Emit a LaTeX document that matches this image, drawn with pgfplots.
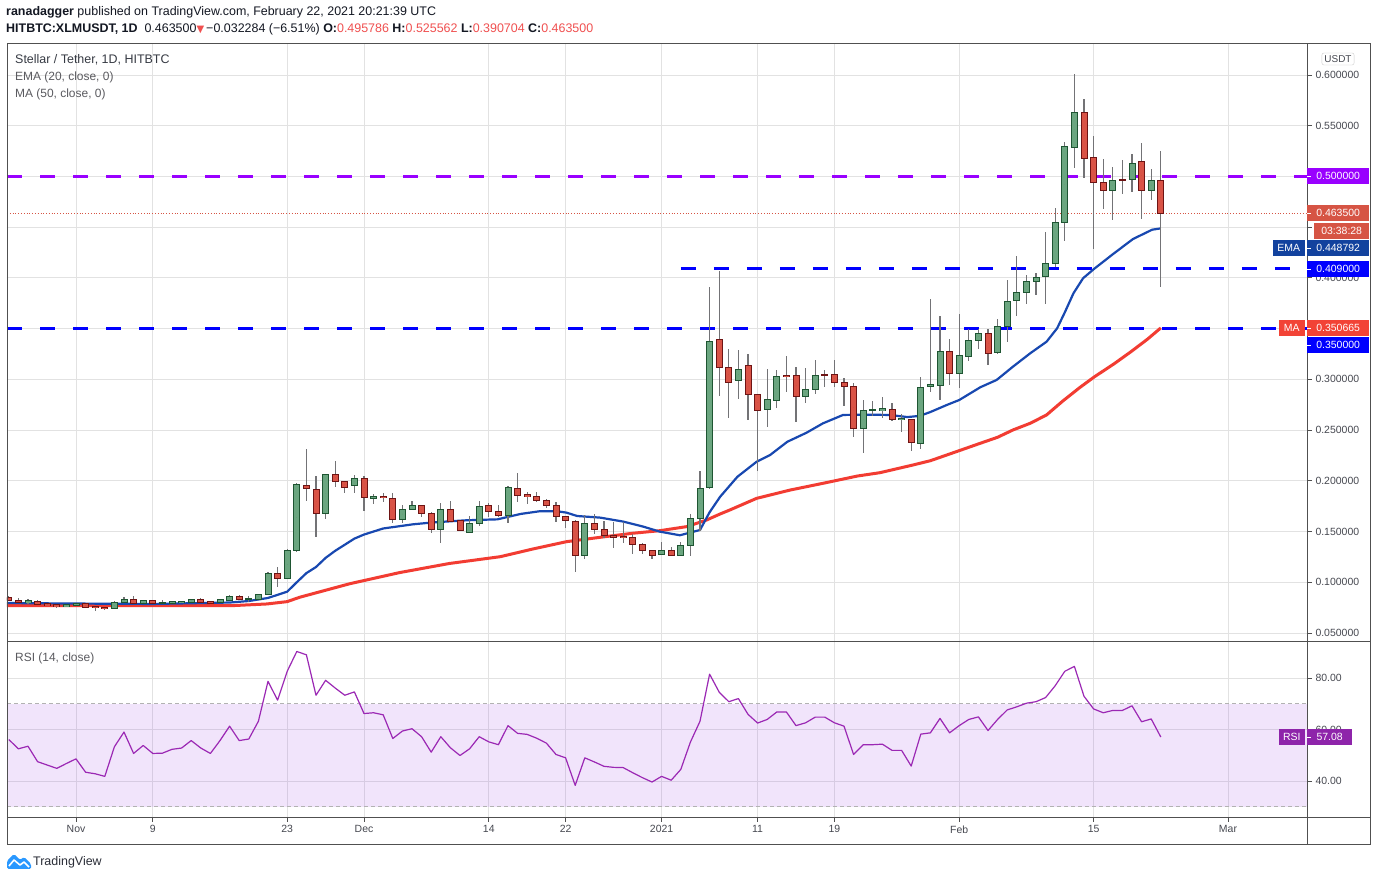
\documentclass[border=0pt]{standalone}
\usepackage{fontspec}
\setmainfont{Liberation Sans}
\newfontfamily\dejavu{DejaVu Sans}
\usepackage{pgfplots}
\usepackage{pgfplotstable}
\pgfplotsset{compat=1.18}

\definecolor{gfill}{RGB}{107,166,128}
\definecolor{gline}{RGB}{30,85,50}
\definecolor{rfill}{RGB}{217,83,70}
\definecolor{rline}{RGB}{110,20,20}
\definecolor{wick}{RGB}{115,115,118}
\definecolor{emac}{RGB}{24,72,176}
\definecolor{mac}{RGB}{242,60,50}
\definecolor{lvlpurple}{RGB}{153,0,255}
\definecolor{lvlblue}{RGB}{0,0,255}
\definecolor{gridc}{RGB}{226,226,226}
\definecolor{framec}{RGB}{80,80,80}
\definecolor{tickc}{RGB}{70,72,80}
\definecolor{rsiline}{RGB}{155,40,180}
\definecolor{rsiband}{RGB}{140,40,230}
\definecolor{pricebox}{RGB}{214,84,68}
\definecolor{emabox}{RGB}{18,66,158}
\definecolor{mabox}{RGB}{242,67,54}
\definecolor{rsibox}{RGB}{142,36,170}
\definecolor{hdrred}{RGB}{240,80,80}
\definecolor{hdr}{RGB}{19,23,34}
\definecolor{legc}{RGB}{90,90,95}
\definecolor{tvblue}{RGB}{41,152,255}

\pgfplotstableread{
d o h l c
-5 0.0798 0.0832 0.0790 0.0815
-1 0.0762 0.0782 0.0755 0.0776
0 0.0776 0.0798 0.0770 0.0790
4 0.0740 0.0815 0.0735 0.0802
5 0.0800 0.0852 0.0795 0.0832
7 0.0790 0.0825 0.0782 0.0815
9 0.0792 0.0825 0.0790 0.0800
10 0.0795 0.0815 0.0790 0.0808
11 0.0798 0.0812 0.0792 0.0808
12 0.0805 0.0830 0.0800 0.0828
15 0.0800 0.0835 0.0795 0.0828
16 0.0822 0.0870 0.0818 0.0862
18 0.0828 0.0865 0.0806 0.0835
19 0.0835 0.0885 0.0830 0.0881
20 0.0882 0.1100 0.0878 0.1088
22 0.1039 0.1325 0.1030 0.1315
23 0.1318 0.1980 0.1300 0.1959
26 0.1680 0.2070 0.1624 0.2064
29 0.1956 0.2058 0.1880 0.2025
31 0.1825 0.1874 0.1775 0.1848
34 0.1621 0.1759 0.1587 0.1719
35 0.1719 0.1802 0.1716 0.1759
38 0.1523 0.1782 0.1390 0.1719
41 0.1493 0.1652 0.1493 0.1582
42 0.1582 0.1802 0.1550 0.1749
45 0.1660 0.1946 0.1587 0.1936
53 0.1262 0.1660 0.1232 0.1581
61 0.1276 0.1400 0.1276 0.1315
63 0.1266 0.1400 0.1256 0.1364
64 0.1364 0.1673 0.1256 0.1630
65 0.1630 0.2097 0.1505 0.1926
66 0.1932 0.3907 0.1922 0.3375
69 0.2991 0.3290 0.2810 0.3099
72 0.2705 0.3106 0.2534 0.2804
73 0.2794 0.3089 0.2721 0.3031
76 0.2834 0.3112 0.2770 0.2902
77 0.2902 0.3191 0.2859 0.3041
82 0.2517 0.2794 0.2277 0.2695
83 0.2695 0.2784 0.2642 0.2700
84 0.2692 0.2830 0.2616 0.2708
86 0.2607 0.2656 0.2485 0.2617
88 0.2373 0.3020 0.2317 0.2922
89 0.2932 0.3789 0.2872 0.2951
90 0.2942 0.3625 0.2794 0.3276
92 0.3060 0.3641 0.2918 0.3237
93 0.3227 0.3494 0.3179 0.3385
94 0.3385 0.3494 0.3296 0.3454
96 0.3267 0.3592 0.3247 0.3523
97 0.3523 0.3979 0.3365 0.3770
98 0.3780 0.4216 0.3622 0.3858
99 0.3858 0.4029 0.3740 0.3967
100 0.3967 0.4045 0.3832 0.4006
101 0.4016 0.4450 0.3740 0.4140
102 0.4140 0.4686 0.4111 0.4548
103 0.4548 0.5337 0.4367 0.5297
104 0.5287 0.6010 0.5086 0.5632
108 0.4864 0.5090 0.4568 0.4962
110 0.4972 0.5219 0.4844 0.5130
112 0.4864 0.5070 0.4765 0.4958
}\greens

\pgfplotstableread{
d o h l c
-7 0.0851 0.0860 0.0815 0.0822
-6 0.0822 0.0840 0.0798 0.0805
-4 0.0812 0.0828 0.0778 0.0783
-3 0.0789 0.0795 0.0765 0.0772
-2 0.0776 0.0782 0.0742 0.0762
1 0.0786 0.0790 0.0748 0.0752
2 0.0760 0.0765 0.0720 0.0750
3 0.0753 0.0758 0.0722 0.0740
6 0.0832 0.0860 0.0788 0.0792
8 0.0815 0.0820 0.0785 0.0790
13 0.0828 0.0848 0.0795 0.0802
14 0.0810 0.0815 0.0790 0.0795
17 0.0862 0.0872 0.0830 0.0835
21 0.1088 0.1147 0.0957 0.1039
24 0.1956 0.2313 0.1800 0.1926
25 0.1916 0.2047 0.1450 0.1680
27 0.2064 0.2195 0.1940 0.1995
28 0.1995 0.2000 0.1877 0.1936
30 0.2025 0.2047 0.1706 0.1838
32 0.1848 0.1880 0.1790 0.1838
33 0.1828 0.1877 0.1587 0.1621
36 0.1759 0.1759 0.1641 0.1680
37 0.1680 0.1690 0.1489 0.1523
39 0.1719 0.1805 0.1600 0.1600
40 0.1610 0.1610 0.1503 0.1513
43 0.1759 0.1780 0.1641 0.1700
44 0.1700 0.1759 0.1641 0.1660
46 0.1926 0.2074 0.1794 0.1857
47 0.1860 0.1886 0.1770 0.1847
48 0.1847 0.1886 0.1794 0.1808
49 0.1808 0.1825 0.1733 0.1759
50 0.1759 0.1788 0.1590 0.1651
51 0.1651 0.1651 0.1532 0.1607
52 0.1601 0.1617 0.1104 0.1262
54 0.1581 0.1673 0.1476 0.1523
55 0.1518 0.1608 0.1440 0.1460
56 0.1460 0.1589 0.1340 0.1443
57 0.1450 0.1589 0.1384 0.1440
58 0.1443 0.1476 0.1282 0.1374
59 0.1374 0.1390 0.1282 0.1315
60 0.1315 0.1315 0.1226 0.1266
62 0.1315 0.1345 0.1266 0.1266
67 0.3395 0.4068 0.2839 0.3119
68 0.3119 0.3296 0.2622 0.2972
70 0.3139 0.3250 0.2603 0.2853
71 0.2853 0.2853 0.2100 0.2695
74 0.3041 0.3227 0.2879 0.3027
75 0.3041 0.3119 0.2583 0.2834
78 0.3047 0.3089 0.2921 0.3043
79 0.3050 0.3191 0.2928 0.2972
80 0.2972 0.3017 0.2741 0.2932
81 0.2932 0.2960 0.2435 0.2517
85 0.2705 0.2764 0.2593 0.2607
87 0.2607 0.2607 0.2297 0.2380
91 0.3276 0.3395 0.2942 0.3060
95 0.3454 0.3494 0.3139 0.3257
105 0.5632 0.5763 0.4982 0.5179
106 0.5189 0.5399 0.4282 0.4942
107 0.4942 0.5169 0.4677 0.4864
109 0.4965 0.5160 0.4830 0.4960
111 0.5150 0.5330 0.4577 0.4864
113 0.495786 0.525562 0.390704 0.4635
}\reds

\pgfplotstableread{
d v
-7.2 0.0795
0 0.0790
8 0.0786
16 0.0800
18 0.0815
20 0.0845
22 0.0907
23 0.1000
24 0.1090
25 0.1150
26 0.1240
27 0.1310
28 0.1370
29 0.1430
30 0.1470
32 0.1530
35.1 0.1571
37.2 0.1590
40.7 0.1611
43.9 0.1620
46.3 0.1673
48.3 0.1700
50.1 0.1700
51.1 0.1686
52.2 0.1653
54.6 0.1637
57 0.1598
59.1 0.1548
60.8 0.1499
62.9 0.1463
65 0.1515
66 0.1690
67.1 0.1843
68.9 0.2040
70.9 0.2188
72.3 0.2254
74.1 0.2385
76.1 0.2474
77.8 0.2566
79.9 0.2649
82 0.2652
84.8 0.2649
86.6 0.2628
87.9 0.2640
89 0.2678
90.7 0.2747
92 0.2796
94.2 0.2922
95.9 0.2994
97.6 0.3125
99.4 0.3257
101.1 0.3371
102.2 0.3503
103 0.3660
103.9 0.3848
104.9 0.3996
106 0.4085
108 0.4233
110.1 0.4383
112.1 0.4475
113 0.4488
}\ema

\pgfplotstableread{
d v
-7.2 0.0770
16.4 0.0770
19.9 0.0786
22 0.0809
23.3 0.0852
28.5 0.0985
33.7 0.1095
38.9 0.1185
44.2 0.1252
47.6 0.1328
51.1 0.1400
54.6 0.1443
58 0.1483
60.8 0.1508
63.6 0.1548
65.7 0.1614
67.1 0.1673
68.1 0.1712
70.9 0.1827
74.4 0.1909
77.8 0.1975
81.4 0.2047
83.75 0.2080
87.2 0.2156
89 0.2198
92 0.2297
94.2 0.2370
96 0.2429
97.6 0.2501
99.4 0.2567
101.1 0.2649
102.8 0.2787
104.6 0.2922
106.1 0.3026
108.1 0.3151
109.9 0.3273
111.6 0.3395
113 0.3507
}\ma

\pgfplotstableread{
d v
-7 56.1
-6 52.5
-5 53.5
-4 47.5
-3 46.2
-2 44.9
-1 46.8
0 48.6
1 43.4
2 42.8
3 41.8
4 53.3
5 59.0
6 50.7
7 53.8
8 50.7
9 50.8
10 52.3
11 52.8
12 55.7
13 52.8
14 50.7
15 55.7
16 61.3
17 55.7
18 56.3
19 63.2
20 78.7
21 71.4
22 82.6
23 90.3
24 89.0
25 73.3
26 79.1
27 76.1
28 73.3
29 74.6
30 66.2
31 66.5
32 65.7
33 56.5
34 59.4
35 60.3
36 57.2
37 51.2
38 57.2
39 52.9
40 49.9
41 52.5
42 57.2
43 55.2
44 54.1
45 61.5
46 58.5
47 58.1
48 56.6
49 54.7
50 50.3
51 49.0
52 38.3
53 49.0
54 47.4
55 45.7
56 45.3
57 45.2
58 43.2
59 41.3
60 39.6
61 41.8
62 40.3
63 44.5
64 55.1
65 63.2
66 81.5
67 74.5
68 70.8
69 72.0
70 65.9
71 62.5
72 63.9
73 66.8
74 66.8
75 61.5
76 62.6
77 64.8
78 64.8
79 62.6
80 61.3
81 50.3
82 54.1
83 54.1
84 54.3
85 51.9
86 51.9
87 45.8
88 58.2
89 58.7
90 64.3
91 58.7
92 61.5
93 63.9
94 64.9
95 59.6
96 63.9
97 67.6
98 68.8
99 70.2
100 70.8
101 72.4
102 77.0
103 82.6
104 84.5
105 72.9
106 68.0
107 66.5
108 67.4
109 67.4
110 69.2
111 63.0
112 64.1
113 57.08
}\rsi

\pgfplotsset{
  tvaxis/.style={
    scale only axis, anchor=south west, width=1300bp,
    xmin=-7.1875, xmax=128.229,
    axis line style={draw=framec, line width=0.8bp},
    xtick={0,8,22,30,43,51,61,71,79,92,106,120},
    ytick pos=right, yticklabel pos=right,
    tick align=outside, major tick length=5bp,
    tick style={draw=framec, line width=0.8bp},
    grid=major, grid style={gridc, line width=0.8bp},
    yticklabel style={font=\fontsize{10.5}{12}\selectfont, text=tickc},
    xticklabel style={font=\fontsize{10.5}{12}\selectfont, text=tickc},
  },
  wicks/.style={only marks, mark=*, mark size=0pt, mark options={draw=none, fill=none}, forget plot,
    error bars/.cd, y dir=both, y explicit, error mark=none,
    error bar style={line width=1.1bp, draw=wick}},
  body/.style 2 args={only marks, mark=*, mark size=0pt, mark options={draw=none, fill=none}, forget plot,
    error bars/.cd, y dir=both, y explicit, error mark=none,
    error bar style={line width=#2, draw=#1}},
}

\begin{document}
\begin{tikzpicture}
\fill[white] (0bp,0bp) rectangle (1376bp,881bp);

% ---------------- main price panel ----------------
\begin{axis}[tvaxis, at={(7bp,240bp)}, height=598bp,
  ymin=0.04209, ymax=0.63154,
  xticklabels={}, xtick style={draw=none},
  ytick={0.05,0.1,0.15,0.2,0.25,0.3,0.35,0.4,0.45,0.5,0.55,0.6},
  yticklabels={0.050000,0.100000,0.150000,0.200000,0.250000,0.300000,0.350000,0.400000,{},0.500000,0.550000,0.600000},
]
% level lines
\addplot[lvlpurple, line width=3bp, dash pattern=on 15bp off 18bp] coordinates {(-7.1875,0.5) (128.229,0.5)};
\addplot[lvlblue, line width=3bp, dash pattern=on 15bp off 18bp] coordinates {(-7.1875,0.35) (128.229,0.35)};
\addplot[lvlblue, line width=3bp, dash pattern=on 15bp off 18bp] coordinates {(63,0.409) (128.229,0.409)};
\addplot[pricebox, line width=0.8bp, dotted] coordinates {(-7.1875,0.4635) (128.229,0.4635)};
% moving averages
\addplot[mac, line width=3bp, line join=round] table[x=d, y=v] {\ma};
\addplot[emac, line width=2.2bp, line join=round] table[x=d, y=v] {\ema};
% wicks
\addplot[wicks] table[x=d, y expr={(\thisrow{h}+\thisrow{l})/2}, y error expr={(\thisrow{h}-\thisrow{l})/2}] {\greens};
\addplot[wicks] table[x=d, y expr={(\thisrow{h}+\thisrow{l})/2}, y error expr={(\thisrow{h}-\thisrow{l})/2}] {\reds};
% bodies
\addplot[body={gline}{7bp}] table[x=d, y expr={(\thisrow{o}+\thisrow{c})/2}, y error expr={abs(\thisrow{o}-\thisrow{c})/2+0.0006}] {\greens};
\addplot[body={gfill}{5bp}] table[x=d, y expr={(\thisrow{o}+\thisrow{c})/2}, y error expr={max(abs(\thisrow{o}-\thisrow{c})/2-0.0004,0)}] {\greens};
\addplot[body={rline}{7bp}] table[x=d, y expr={(\thisrow{o}+\thisrow{c})/2}, y error expr={abs(\thisrow{o}-\thisrow{c})/2+0.0006}] {\reds};
\addplot[body={rfill}{5bp}] table[x=d, y expr={(\thisrow{o}+\thisrow{c})/2}, y error expr={max(abs(\thisrow{o}-\thisrow{c})/2-0.0004,0)}] {\reds};
\end{axis}

% ---------------- RSI panel ----------------
\begin{axis}[tvaxis, at={(7bp,64bp)}, height=176bp,
  ymin=26.02, ymax=94.37,
  xticklabels={Nov,9,23,Dec,14,22,2021,11,19,Feb,15,Mar},
  xtick pos=bottom,
  ytick={40,60,80}, yticklabels={40.00,60.00,80.00},
]
\addplot[draw=none, fill=rsiband, fill opacity=0.12] coordinates {(-7.1875,30) (128.229,30) (128.229,70) (-7.1875,70)} -- cycle;
\addplot[gray!60, line width=0.8bp, dash pattern=on 4bp off 3bp] coordinates {(-7.1875,30) (128.229,30)};
\addplot[gray!60, line width=0.8bp, dash pattern=on 4bp off 3bp] coordinates {(-7.1875,70) (128.229,70)};
\addplot[rsiline, line width=1.2bp, line join=round] table[x=d, y=v] {\rsi};
\end{axis}

\begin{scope}[x=1bp, y=1bp]
% frame
\draw[framec, line width=0.8bp] (7,37) rectangle (1370,838);
\draw[framec, line width=0.8bp] (7,240) -- (1370,240);
\draw[framec, line width=0.8bp] (7,64) -- (1370,64);
\draw[framec, line width=0.8bp] (1307,37) -- (1307,838);

% header
\node[anchor=west, inner sep=0, font=\fontsize{12.5}{14}\selectfont, text=hdr] at (6,869)
  {\textbf{ranadagger} published on TradingView.com, February 22, 2021 20:21:39 UTC};
\node[anchor=west, inner sep=0, font=\fontsize{12.5}{14}\selectfont, text=hdr] at (6,852)
  {\textbf{HITBTC:XLMUSDT, 1D}\ \ 0.463500{\color{hdrred}\dejavu\fontsize{10}{12}\selectfont ▼}\,−0.032284 (−6.51\%)\ \textbf{O:}{\color{hdrred}0.495786}\ \textbf{H:}{\color{hdrred}0.525562}\ \textbf{L:}{\color{hdrred}0.390704}\ \textbf{C:}{\color{hdrred}0.463500}};

% legends
\node[anchor=west, inner sep=0, font=\fontsize{12.5}{14}\selectfont, text=hdr!85] at (15,821) {Stellar / Tether, 1D, HITBTC};
\node[anchor=west, inner sep=0, font=\fontsize{12}{14}\selectfont, text=legc] at (15,804) {EMA (20, close, 0)};
\node[anchor=west, inner sep=0, font=\fontsize{12}{14}\selectfont, text=legc] at (15,787) {MA (50, close, 0)};
\node[anchor=west, inner sep=0, font=\fontsize{12}{14}\selectfont, text=legc] at (15,223) {RSI (14, close)};

% USDT
\node[draw=gray!40, rounded corners=2bp, fill=white, text=tickc, font=\fontsize{10}{12}\selectfont, inner sep=2.5bp] at (1338,822) {USDT};

% price boxes
\tikzset{pbox/.style={anchor=west, inner sep=0, minimum width=62bp, minimum height=16bp, text=white, font=\fontsize{10.5}{12}\selectfont},
         tbox/.style={anchor=east, inner sep=0, minimum height=16bp, text=white, font=\fontsize{10.5}{12}\selectfont}}
\node[pbox, fill=lvlpurple] at (1307,705) {0.500000};
\node[pbox, fill=pricebox] at (1307,668) {0.463500};
\node[anchor=west, inner sep=0, minimum width=55bp, minimum height=16bp, text=white, font=\fontsize{10.5}{12}\selectfont, fill=pricebox] at (1314,650) {03:38:28};
\node[pbox, fill=emabox] at (1307,633) {0.448792};
\node[tbox, fill=emabox, minimum width=32bp] at (1305,633) {EMA};
\node[pbox, fill=lvlblue] at (1307,612) {0.409000};
\node[pbox, fill=mabox] at (1307,553) {0.350665};
\node[tbox, fill=mabox, minimum width=26bp] at (1305,553) {MA};
\node[pbox, fill=lvlblue] at (1307,536) {0.350000};
\node[anchor=west, inner sep=0, minimum width=45bp, minimum height=16bp, text=white, font=\fontsize{10.5}{12}\selectfont, fill=rsibox] at (1307,144) {57.08};
\node[tbox, fill=rsibox, minimum width=26bp] at (1305,144) {RSI};
\foreach \yy in {705,668,633,612,553,536,144} {\draw[white, line width=0.8bp] (1307,\yy) -- (1311,\yy);}

% TradingView logo
\fill[tvblue, rounded corners=1.5bp] (7,12) -- (7,20) -- (14,27) -- (20,21) -- (24,24) -- (31,17) -- (31,12) -- cycle;
\draw[white, line width=1.6bp, line join=round] (9,15) -- (14,21) -- (20,16) -- (24,19) -- (29,14);
\node[anchor=west, inner sep=0, font=\fontsize{12.5}{14}\selectfont, text=hdr!90] at (33,19) {TradingView};
\end{scope}
\end{tikzpicture}
\end{document}
